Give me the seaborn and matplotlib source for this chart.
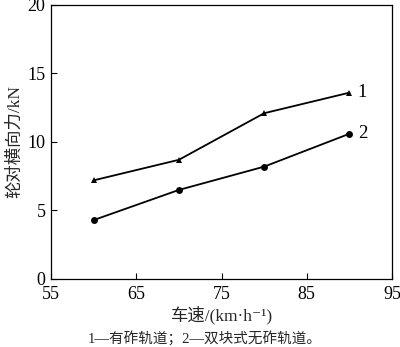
import matplotlib
matplotlib.use("Agg")
import matplotlib.pyplot as plt
import seaborn as sns
import pandas as pd

speeds = [60, 70, 80, 90]
ballasted = [7.2, 8.7, 12.1, 13.6]
ballastless = [4.3, 6.5, 8.2, 10.6]
series_labels = ["1", "2"]
x_ticks = [55, 65, 75, 85, 95]
y_ticks = [0, 5, 10, 15, 20]

sns.set_theme(style="ticks")
plt.rcParams["font.family"] = ["Liberation Serif", "Noto Sans CJK SC", "DejaVu Sans"]
plt.rcParams["axes.unicode_minus"] = False

df = pd.DataFrame({
    "speed": speeds * 2,
    "force": ballasted + ballastless,
    "track": [series_labels[0]] * 4 + [series_labels[1]] * 4,
})

fig = plt.figure(figsize=(4.0, 3.47), dpi=100)
ax = fig.add_axes([0.1275, 0.196, 0.8525, 0.7896])

sns.lineplot(data=df, x="speed", y="force", hue="track", style="track",
             markers={"1": "^", "2": "o"}, dashes=False,
             palette={"1": "black", "2": "black"}, linewidth=1.3,
             markersize=5, markeredgewidth=0, legend=False, ax=ax)

for vals, lab in zip([ballasted, ballastless], series_labels):
    ax.text(speeds[-1] + 1.0, vals[-1], lab, fontsize=13.5, va="center",
            ha="left", color="black")

ax.set_xlim(55, 95)
ax.set_ylim(0, 20)
ax.set_xticks(x_ticks)
ax.set_yticks(y_ticks)
ax.tick_params(direction="in", length=4, width=0.8, labelsize=13,
               top=False, right=False, colors="black")
ax.tick_params(axis="x", pad=5)
ax.tick_params(axis="y", pad=4)
for sp in ax.spines.values():
    sp.set_color("black")
    sp.set_linewidth(0.9)

ax.set_xlabel("车速/(km·h⁻¹)", fontsize=12.5, labelpad=2)
ax.set_ylabel("轮对横向力/kN", fontsize=12.5, labelpad=3)

fig.text(0.513, 0.012, "1—有砟轨道；2—双块式无砟轨道。", ha="center",
         fontsize=10.5)

fig.savefig("out.png", dpi=100, facecolor="white")
